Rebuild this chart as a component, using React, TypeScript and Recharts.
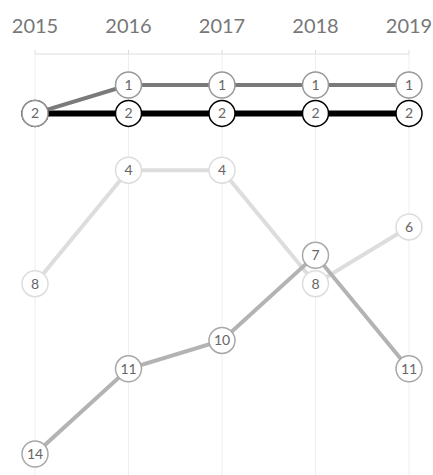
import React from "react";
import { LineChart, Line, XAxis, YAxis, CartesianGrid } from "recharts";

const years = [2015, 2016, 2017, 2018, 2019];
const seriesA = [2, 1, 1, 1, 1];
const seriesB = [2, 2, 2, 2, 2];
const seriesC = [8, 4, 4, 8, 6];
const seriesD = [14, 11, 10, 7, 11];

const data = years.map((y, i) => ({
  year: y,
  a: seriesA[i],
  b: seriesB[i],
  c: seriesC[i],
  d: seriesD[i],
}));

const makeDot = (stroke: string) => (props: any) => {
  const { cx, cy, value, index } = props;
  if (cx == null || cy == null) return <g key={index} />;
  return (
    <g key={`dot-${index}`}>
      <circle cx={cx} cy={cy} r={13} fill="#fff" stroke={stroke} strokeWidth={1.5} />
      <text
        x={cx}
        y={cy}
        dy="0.35em"
        textAnchor="middle"
        fill="#666"
        fontSize={14}
        fontFamily="Lato, 'Open Sans', sans-serif"
      >
        {value}
      </text>
    </g>
  );
};

export default function App() {
  return (
    <div style={{ position: "absolute", left: 0, top: 0 }}>
      <LineChart
        width={433}
        height={475}
        data={data}
        margin={{ top: 24, right: 24, left: 35, bottom: 0 }}
      >
        <CartesianGrid horizontal={false} stroke="#eeeeee" />
        <XAxis
          dataKey="year"
          type="number"
          orientation="top"
          domain={[2015, 2019]}
          ticks={years}
          interval={0}
          height={30}
          tickSize={4}
          tickMargin={17}
          axisLine={{ stroke: "#dddddd" }}
          tickLine={{ stroke: "#dddddd" }}
          tick={{ fill: "#777", fontSize: 20, fontFamily: "Lato, 'Open Sans', sans-serif" }}
        />
        <YAxis hide type="number" reversed domain={[1, 14]} padding={{ top: 31, bottom: 21 }} />
        <Line dataKey="c" stroke="#dddddd" strokeWidth={4} dot={makeDot("#dddddd")} isAnimationActive={false} />
        <Line dataKey="d" stroke="#b3b3b3" strokeWidth={4} dot={makeDot("#a8a8a8")} isAnimationActive={false} />
        <Line dataKey="b" stroke="#000000" strokeWidth={6} dot={makeDot("#000000")} isAnimationActive={false} />
        <Line dataKey="a" stroke="#7a7a7a" strokeWidth={4} dot={makeDot("#999999")} isAnimationActive={false} />
      </LineChart>
    </div>
  );
}
